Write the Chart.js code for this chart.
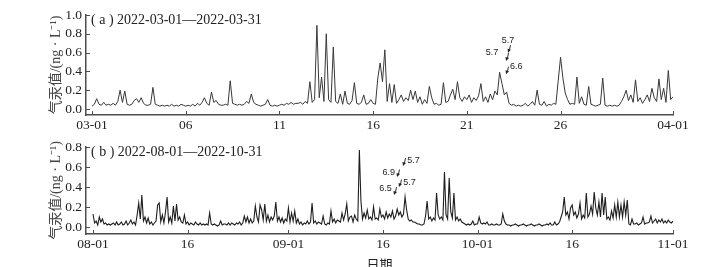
<!DOCTYPE html>
<html>
<head>
<meta charset="utf-8">
<script src="https://cdn.jsdelivr.net/npm/chart.js@4.4.1/dist/chart.umd.min.js"></script>
<style>
  html, body { margin: 0; padding: 0; background: #fff; overflow: hidden; }
  #wrap { position: relative; width: 721px; height: 267px; overflow: hidden; }
  canvas { position: absolute; left: 0; }
  #chartA { top: 0; }
  #chartB { top: 133px; }
</style>
</head>
<body>
<div id="wrap">
  <canvas id="chartA" width="721" height="133"></canvas>
  <canvas id="chartB" width="721" height="140"></canvas>
</div>
<script>
// (a) 2022-03-01 .. 2022-04-01, one reading every 3 h (8 per day)
const perDayA = 8;
const valuesA = [
  0.03, 0.05, 0.11, 0.05, 0.04, 0.07, 0.04, 0.05,
  0.04, 0.06, 0.04, 0.08, 0.20, 0.07, 0.19, 0.05,
  0.04, 0.05, 0.09, 0.11, 0.07, 0.12, 0.06, 0.04,
  0.04, 0.05, 0.23, 0.05, 0.04, 0.03, 0.04, 0.03,
  0.04, 0.03, 0.05, 0.03, 0.04, 0.03, 0.05, 0.04,
  0.03, 0.04, 0.03, 0.05, 0.03, 0.06, 0.04, 0.07,
  0.12, 0.06, 0.04, 0.18, 0.07, 0.09, 0.05, 0.04,
  0.04, 0.05, 0.04, 0.30, 0.06, 0.05, 0.04, 0.05,
  0.04, 0.05, 0.08, 0.06, 0.16, 0.07, 0.05, 0.04,
  0.03, 0.04, 0.05, 0.10, 0.04, 0.03, 0.04, 0.03,
  0.04, 0.05, 0.04, 0.06, 0.05, 0.07, 0.05, 0.06,
  0.06, 0.07, 0.05, 0.08, 0.06, 0.29, 0.07, 0.10,
  0.89, 0.12, 0.34, 0.08, 0.80, 0.10, 0.07, 0.66,
  0.08, 0.06, 0.16, 0.05, 0.19, 0.06, 0.05, 0.09,
  0.28, 0.06, 0.05, 0.07, 0.15, 0.05, 0.06, 0.10,
  0.06, 0.05, 0.33, 0.49, 0.29, 0.63, 0.08, 0.27,
  0.07, 0.26, 0.06, 0.10, 0.15, 0.08, 0.12, 0.09,
  0.20, 0.10, 0.19, 0.07, 0.13, 0.05, 0.10, 0.06,
  0.24, 0.12, 0.05, 0.06, 0.04, 0.05, 0.28, 0.07,
  0.08, 0.15, 0.21, 0.10, 0.29, 0.12, 0.08, 0.13,
  0.10, 0.15, 0.07, 0.12, 0.09, 0.14, 0.27, 0.08,
  0.13, 0.07, 0.16, 0.10, 0.19, 0.15, 0.39, 0.27,
  0.15, 0.18, 0.06, 0.04, 0.05, 0.03, 0.04, 0.03,
  0.04, 0.06, 0.03, 0.05, 0.08, 0.04, 0.20, 0.05,
  0.04, 0.08, 0.03, 0.05, 0.04, 0.06, 0.05, 0.30,
  0.55, 0.33, 0.17, 0.10, 0.05, 0.06, 0.05, 0.34,
  0.06, 0.13, 0.05, 0.04, 0.24, 0.05, 0.04, 0.03,
  0.04, 0.05, 0.33, 0.04, 0.03, 0.04, 0.03, 0.04,
  0.03, 0.04, 0.08, 0.13, 0.20, 0.09, 0.15, 0.07,
  0.31, 0.08, 0.12, 0.06, 0.10, 0.15, 0.08, 0.22,
  0.12, 0.08, 0.32, 0.10, 0.22, 0.07, 0.41, 0.10,
  0.13
];
const xTicksA = [0, 5, 10, 15, 20, 25, 31];
const xLabelsA = ['03-01', '06', '11', '16', '21', '26', '04-01'];
const yTicksA = [0, 0.2, 0.4, 0.6, 0.8, 1.0];

// (b) 2022-08-01 .. 2022-11-01, one reading every 6 h (4 per day)
const perDayB = 4;
const valuesB = [
  0.13, 0.04, 0.06, 0.02,  0.10, 0.05, 0.08, 0.03,  0.04, 0.02, 0.03, 0.02,
  0.03, 0.04, 0.02, 0.05,  0.02, 0.03, 0.05, 0.02,  0.03, 0.06, 0.02, 0.04,
  0.07, 0.03, 0.05, 0.02,  0.12, 0.24, 0.08, 0.32,  0.06, 0.10, 0.04, 0.09,
  0.03, 0.05, 0.02, 0.04,  0.06, 0.22, 0.24, 0.05,  0.12, 0.04, 0.15, 0.30,
  0.05, 0.10, 0.04, 0.21,  0.06, 0.23, 0.07, 0.10,  0.05, 0.04, 0.12, 0.03,
  0.05, 0.02, 0.04, 0.03,  0.02, 0.05, 0.03, 0.02,  0.04, 0.02, 0.03, 0.02,
  0.03, 0.02, 0.14, 0.03,  0.02, 0.03, 0.02, 0.01,  0.02, 0.06, 0.02, 0.03,
  0.03, 0.02, 0.04, 0.02,  0.04, 0.03, 0.02, 0.04,  0.03, 0.05, 0.02, 0.04,
  0.11, 0.05, 0.10, 0.04,  0.08, 0.04, 0.06, 0.21,  0.10, 0.05, 0.22, 0.17,
  0.07, 0.23, 0.06, 0.12,  0.05, 0.10, 0.07, 0.11,  0.25, 0.06, 0.10, 0.05,
  0.09, 0.04, 0.08, 0.06,  0.19, 0.05, 0.14, 0.06,  0.16, 0.04, 0.08, 0.03,
  0.05, 0.02, 0.04, 0.03,  0.06, 0.03, 0.05, 0.24,  0.04, 0.06, 0.03, 0.05,
  0.04, 0.03, 0.11, 0.03,  0.02, 0.04, 0.03, 0.16,  0.05, 0.08, 0.04, 0.07,
  0.06, 0.05, 0.14, 0.07,  0.13, 0.23, 0.06, 0.10,  0.11, 0.05, 0.12, 0.08,
  0.06, 0.77, 0.26, 0.08,  0.14, 0.09, 0.17, 0.08,  0.10, 0.07, 0.20, 0.08,
  0.09, 0.07, 0.18, 0.10,  0.12, 0.08, 0.15, 0.09,  0.13, 0.10, 0.16, 0.08,
  0.11, 0.18, 0.12, 0.15,  0.10, 0.13, 0.30, 0.17,  0.08, 0.06, 0.07, 0.05,
  0.05, 0.04, 0.03, 0.03,  0.02, 0.02, 0.03, 0.11,  0.26, 0.08, 0.10, 0.06,
  0.09, 0.07, 0.34, 0.12,  0.08, 0.10, 0.07, 0.55,  0.12, 0.08, 0.49, 0.15,
  0.09, 0.34, 0.07, 0.10,  0.06, 0.08, 0.05, 0.04,  0.03, 0.02, 0.03, 0.02,
  0.03, 0.06, 0.02, 0.03,  0.03, 0.10, 0.04, 0.03,  0.04, 0.03, 0.05, 0.02,
  0.02, 0.03, 0.02, 0.02,  0.03, 0.02, 0.02, 0.03,  0.13, 0.06, 0.03, 0.02,
  0.02, 0.01, 0.02, 0.02,  0.03, 0.02, 0.01, 0.02,  0.02, 0.03, 0.02, 0.01,
  0.02, 0.02, 0.03, 0.02,  0.01, 0.02, 0.02, 0.03,  0.02, 0.01, 0.02, 0.02,
  0.03, 0.02, 0.04, 0.02,  0.02, 0.05, 0.02, 0.03,  0.05, 0.10, 0.15, 0.30,
  0.12, 0.15, 0.08, 0.19,  0.22, 0.12, 0.15, 0.09,  0.13, 0.24, 0.08, 0.12,
  0.09, 0.34, 0.10, 0.13,  0.21, 0.13, 0.35, 0.19,  0.12, 0.25, 0.10, 0.34,
  0.12, 0.30, 0.08, 0.10,  0.07, 0.16, 0.09, 0.22,  0.10, 0.25, 0.10, 0.22,
  0.10, 0.25, 0.12, 0.27,  0.03, 0.02, 0.08, 0.03,  0.03, 0.04, 0.02, 0.03,
  0.04, 0.10, 0.03, 0.04,  0.04, 0.05, 0.11, 0.04,  0.06, 0.08, 0.04, 0.07,
  0.05, 0.08, 0.04, 0.06,  0.04, 0.07, 0.05, 0.04,
  0.06
];
const xTicksB = [0, 15, 31, 46, 61, 76, 92];
const xLabelsB = ['08-01', '16', '09-01', '16', '10-01', '16', '11-01'];
const yTicksB = [0, 0.2, 0.4, 0.6, 0.8];

const yTitle = '气汞值/(ng · L⁻¹)';
const axisColor = '#4d4d4d';
const textColor = '#222';
const serif = '"Liberation Serif", "Noto Sans CJK SC", serif';

/* ticks drawn on the inside of the axes */
const inwardTicks = {
  id: 'inwardTicks',
  afterDraw(chart) {
    const { ctx, chartArea, scales: { x, y } } = chart;
    ctx.save();
    ctx.strokeStyle = axisColor;
    ctx.lineWidth = 1;
    ctx.beginPath();
    x.ticks.forEach(t => {
      const px = Math.round(x.getPixelForValue(t.value)) + 0.5;
      ctx.moveTo(px, chartArea.bottom);
      ctx.lineTo(px, chartArea.bottom - 4);
    });
    y.ticks.forEach(t => {
      const py = Math.round(y.getPixelForValue(t.value)) + 0.5;
      ctx.moveTo(chartArea.left, py);
      ctx.lineTo(chartArea.left + 4, py);
    });
    ctx.stroke();
    ctx.restore();
  }
};

/* panel caption and small arrow notes */
const panelText = {
  id: 'panelText',
  afterDatasetsDraw(chart, args, opts) {
    const { ctx, chartArea, scales: { x, y } } = chart;
    ctx.save();
    ctx.fillStyle = textColor;
    ctx.strokeStyle = '#333';
    ctx.textBaseline = 'middle';
    ctx.textAlign = 'left';
    ctx.font = '14px ' + serif;
    ctx.fillText(opts.title, chartArea.left + 5, chartArea.top + 5);

    ctx.font = '9px "Liberation Sans", Arial, sans-serif';
    ctx.lineWidth = 1;
    opts.notes.forEach(n => {
      ctx.textAlign = n.align;
      ctx.fillText(n.text, x.getPixelForValue(n.tx), y.getPixelForValue(n.ty));
      const ax = Math.round(x.getPixelForValue(n.ax)) + 0.5;
      const y0 = y.getPixelForValue(n.ay0);
      const y1 = y.getPixelForValue(n.ay1);
      ctx.beginPath();
      ctx.moveTo(ax + 1, y0);
      ctx.lineTo(ax, y1 - 2);
      ctx.stroke();
      ctx.beginPath();
      ctx.moveTo(ax - 2, y1 - 3);
      ctx.lineTo(ax + 1.5, y1 - 2);
      ctx.lineTo(ax - 1.5, y1 + 1);
      ctx.closePath();
      ctx.fill();
    });
    ctx.restore();
  }
};

function makeChart(id, cfg) {
  const points = cfg.values.map((v, i) => ({ x: i / cfg.perDay, y: v }));
  return new Chart(document.getElementById(id), {
    type: 'line',
    data: {
      datasets: [{
        data: points,
        borderColor: cfg.lineColor,
        borderWidth: cfg.lineWidth,
        pointRadius: 0,
        tension: 0
      }]
    },
    options: {
      responsive: false,
      animation: false,
      events: [],
      layout: { padding: { top: cfg.top, right: 48, left: 0, bottom: 0 } },
      plugins: {
        legend: { display: false },
        tooltip: { enabled: false },
        panelText: { title: cfg.title, notes: cfg.notes }
      },
      scales: {
        x: {
          type: 'linear',
          min: cfg.xMin,
          max: cfg.xMax,
          afterBuildTicks: s => { s.ticks = cfg.xTicks.map(v => ({ value: v })); },
          afterFit: s => { s.height = cfg.xAxisH; },
          ticks: {
            autoSkip: false,
            maxRotation: 0,
            padding: 2,
            color: textColor,
            font: { family: serif, size: 13.5 },
            callback: (v, i) => cfg.xLabels[i]
          },
          grid: { display: false, drawTicks: false },
          border: { display: true, color: axisColor, width: 1.5 },
          title: {
            display: !!cfg.xTitle,
            text: cfg.xTitle || '',
            color: textColor,
            font: { family: serif, size: 13 },
            padding: { top: 0, bottom: 0 }
          }
        },
        y: {
          min: cfg.yMin,
          max: cfg.yMax,
          afterBuildTicks: s => { s.ticks = cfg.yTicks.map(v => ({ value: v })); },
          afterFit: s => { s.width = 86; },
          ticks: {
            padding: 4,
            color: textColor,
            font: { family: serif, size: 13.5 },
            callback: v => v.toFixed(1)
          },
          grid: { display: false, drawTicks: false },
          border: { display: true, color: axisColor, width: 1.5 },
          title: {
            display: true,
            text: yTitle,
            color: '#444',
            font: { family: serif, size: 14 },
            padding: { top: 48, bottom: 0 }
          }
        }
      }
    },
    plugins: [inwardTicks, panelText]
  });
}

makeChart('chartA', {
  values: valuesA, perDay: perDayA,
  xTicks: xTicksA, xLabels: xLabelsA, yTicks: yTicksA,
  xMin: -0.32, xMax: 31, yMin: -0.064, yMax: 1.0,
  top: 15, xAxisH: 18,
  lineColor: '#383838', lineWidth: 1,
  title: '( a ) 2022-03-01—2022-03-31',
  notes: [
    { text: '5.7', align: 'center', tx: 22.2, ty: 0.73, ax: 22.25, ay0: 0.68, ay1: 0.61 },
    { text: '5.7', align: 'right', tx: 21.68, ty: 0.60, ax: 22.12, ay0: 0.60, ay1: 0.52 },
    { text: '6.6', align: 'left', tx: 22.3, ty: 0.45, ax: 22.12, ay0: 0.45, ay1: 0.38 }
  ]
});

makeChart('chartB', {
  values: valuesB, perDay: perDayB,
  xTicks: xTicksB, xLabels: xLabelsB, yTicks: yTicksB,
  xMin: -1.11, xMax: 92, yMin: -0.07, yMax: 0.8,
  top: 14, xAxisH: 39,
  lineColor: '#1e1e1e', lineWidth: 1.1,
  xTitle: '日期',
  title: '( b ) 2022-08-01—2022-10-31',
  notes: [
    { text: '5.7', align: 'left', tx: 49.85, ty: 0.66, ax: 49.41, ay0: 0.69, ay1: 0.62 },
    { text: '6.9', align: 'right', tx: 47.9, ty: 0.545, ax: 48.38, ay0: 0.575, ay1: 0.51 },
    { text: '5.7', align: 'left', tx: 49.22, ty: 0.44, ax: 48.62, ay0: 0.475, ay1: 0.41 },
    { text: '6.5', align: 'right', tx: 47.38, ty: 0.38, ax: 47.83, ay0: 0.40, ay1: 0.33 }
  ]
});
</script>
</body>
</html>
